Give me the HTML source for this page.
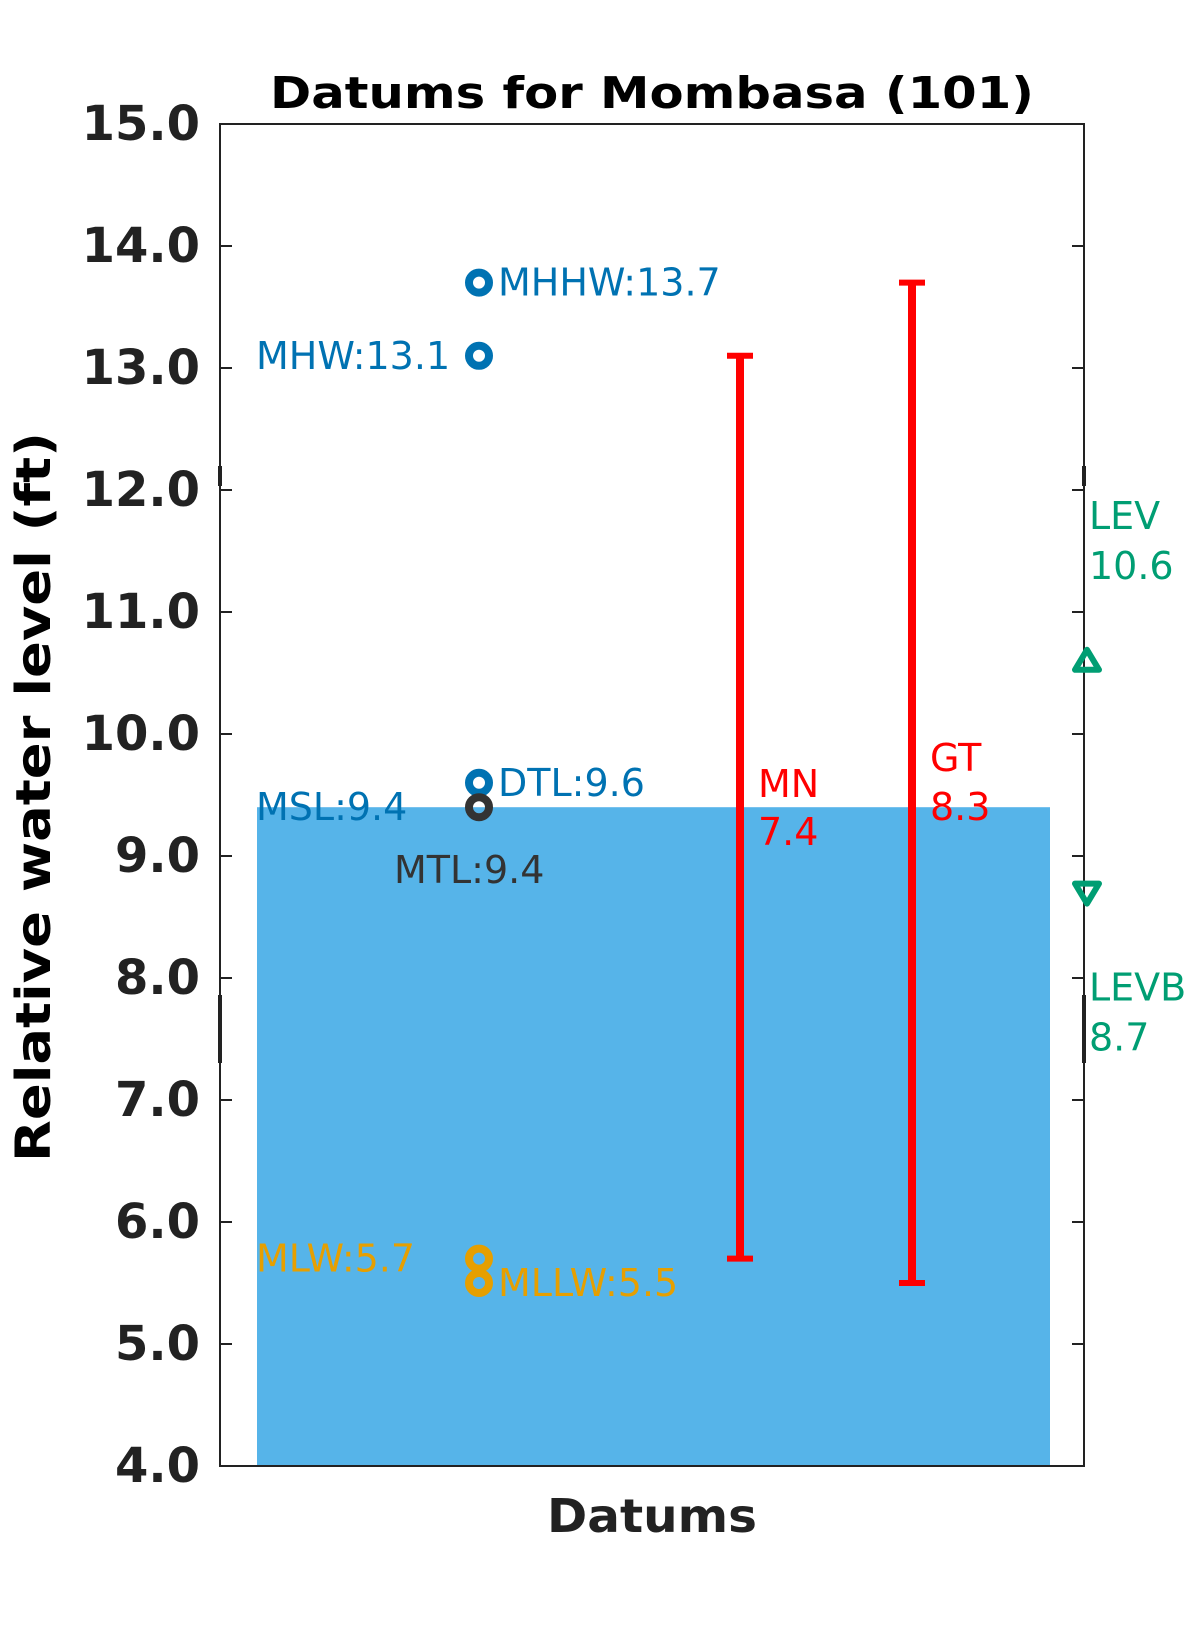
<!DOCTYPE html>
<html><head><meta charset="utf-8"><style>
html,body{margin:0;padding:0;background:#fff;}
svg{display:block;font-family:"DejaVu Sans","Liberation Sans",sans-serif;}
</style></head><body>
<svg id="chart" width="1200" height="1650" viewBox="0 0 1200 1650" xmlns="http://www.w3.org/2000/svg">
<rect width="1200" height="1650" fill="#fff"/>
<text x="652" y="108" text-anchor="middle" font-size="44" font-weight="bold" fill="#000" textLength="764" lengthAdjust="spacingAndGlyphs">Datums for Mombasa (101)</text>
<text transform="translate(50,797) rotate(-90)" text-anchor="middle" font-size="48" font-weight="bold" fill="#000" textLength="730" lengthAdjust="spacingAndGlyphs">Relative water level (ft)</text>
<text x="652" y="1532" text-anchor="middle" font-size="46" font-weight="bold" fill="#222" textLength="210" lengthAdjust="spacingAndGlyphs">Datums</text>
<g id="plot"></g>
</svg>
<script>
const yTicks = [4,5,6,7,8,9,10,11,12,13,14,15];
const mslValue = 9.4;
const datumNames = ["MHHW","MHW","DTL","MSL","MTL","MLW","MLLW"];
const datumValues = [13.7,13.1,9.6,9.4,9.4,5.7,5.5];
const rangeNames = ["MN","GT"];
const rangeLow = [5.7,5.5];
const rangeHigh = [13.1,13.7];
const rangeValues = [7.4,8.3];
const levNames = ["LEV","LEVB"];
const levValues = [10.6,8.7];

const L=220,R=1084,T=124,B=1466,yMin=4,yMax=15;
const y = v => B - (v - yMin) / (yMax - yMin) * (B - T);
const NS="http://www.w3.org/2000/svg";
const g=document.getElementById('plot');
function mk(tag, attrs, parent){const e=document.createElementNS(NS,tag);for(const k in attrs)e.setAttribute(k,attrs[k]);(parent||g).appendChild(e);return e;}

// MSL bar
const bar=mk('rect',{x:257,y:y(mslValue),width:793,height:B-y(mslValue),fill:'#56B4E9'});



// axes frame
const frame=mk('rect',{x:L,y:T,width:R-L,height:B-T,fill:'none',stroke:'#222','stroke-width':2});


[[466,486],[995,1063]].forEach(s=>{
  mk('line',{x1:L,x2:L,y1:s[0],y2:s[1],stroke:'#222','stroke-width':4});
  mk('line',{x1:R,x2:R,y1:s[0],y2:s[1],stroke:'#222','stroke-width':4});
});
yTicks.forEach(v=>{
  const yy=y(v);
  const t1=mk('line',{x1:L,x2:L+12,y1:yy,y2:yy,stroke:'#222','stroke-width':2});
  
  
  mk('line',{x1:R-12,x2:R,y1:yy,y2:yy,stroke:'#222','stroke-width':2});
  const lab=mk('text',{x:200,y:yy,'text-anchor':'end','dominant-baseline':'central','font-size':48,'font-weight':'bold',fill:'#222'});
  lab.textContent=v.toFixed(1);
  
  
});

// datum markers and labels
const colors={MHHW:'#0072B2',MHW:'#0072B2',DTL:'#0072B2',MSL:'#0072B2',MTL:'#333333',MLW:'#E69F00',MLLW:'#E69F00'};
const mx=479;
datumNames.forEach((n,i)=>{
  const v=datumValues[i], c=colors[n], yy=y(v);
  if(n!=='MSL'){
    const m=mk('circle',{cx:mx,cy:yy,r:10,fill:'none',stroke:c,'stroke-width':8});
    
    
  }
  let x=498, ty=yy, anchor='start';
  if(n==='MHW'||n==='MSL'||n==='MLW'){x=256;}
  if(n==='MTL'){x=394;ty=yy+63;}
  const t=mk('text',{x:x,y:ty,'text-anchor':anchor,'dominant-baseline':'central','font-size':38,fill:c});
  t.textContent=n+':'+v.toFixed(1);
  
  
});

// range error bars
const rx=[740,912];
rangeNames.forEach((n,i)=>{
  const x=rx[i], y1=y(rangeHigh[i]), y2=y(rangeLow[i]);
  const grp=mk('g',{});
  
  
  mk('line',{x1:x,x2:x,y1:y1,y2:y2,stroke:'#FF0000','stroke-width':8},grp);
  mk('line',{x1:x-13,x2:x+13,y1:y1,y2:y1,stroke:'#FF0000','stroke-width':6},grp);
  mk('line',{x1:x-13,x2:x+13,y1:y2,y2:y2,stroke:'#FF0000','stroke-width':6},grp);
  const off = i===0 ? [-23,25] : [-49,0];
  const t1=mk('text',{x:x+18,y:y(mslValue)+off[0],'dominant-baseline':'central','font-size':38,fill:'#FF0000'});
  t1.textContent=n;
  
  
  const t2=mk('text',{x:x+18,y:y(mslValue)+off[1],'dominant-baseline':'central','font-size':38,fill:'#FF0000'});
  t2.textContent=rangeValues[i].toFixed(1);
  
  
});

// LEV markers
levNames.forEach((n,i)=>{
  const v=levValues[i], yy=y(v), x=1087;
  const up=(i===0);
  const pts = up ? `${x-12},${yy+9} ${x+12},${yy+9} ${x},${yy-11}` : `${x-12},${yy-9} ${x+12},${yy-9} ${x},${yy+11}`;
  const m=mk('polygon',{points:pts,fill:'none',stroke:'#009E73','stroke-width':6,'stroke-linejoin':'round'});
  
  
  const base = up ? yy-145 : yy+95;
  const t1=mk('text',{x:1089,y:base,'dominant-baseline':'central','font-size':38,fill:'#009E73'});
  t1.textContent=n;
  
  
  const t2=mk('text',{x:1089,y:base+50,'dominant-baseline':'central','font-size':38,fill:'#009E73'});
  t2.textContent=v.toFixed(1);
  
  
});
</script>
</body></html>
